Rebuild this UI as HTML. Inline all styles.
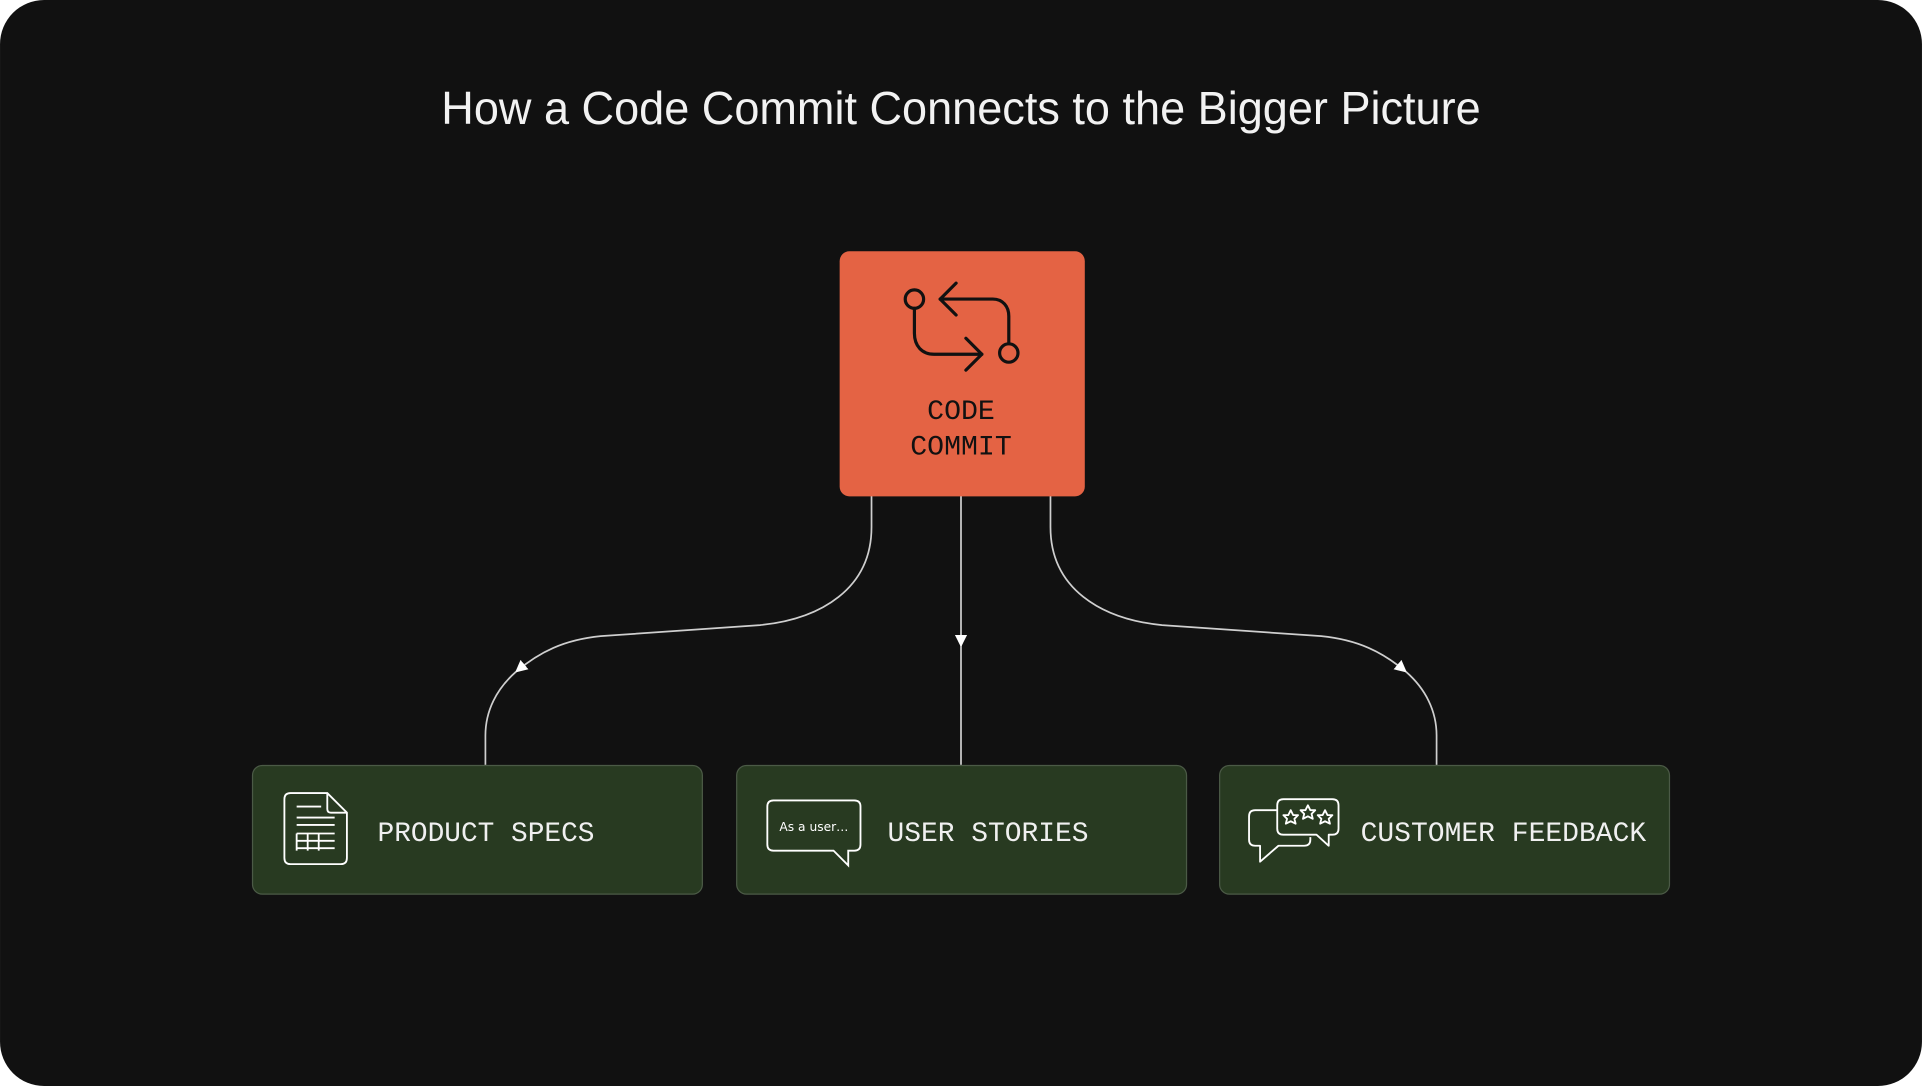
<!DOCTYPE html>
<html><head><meta charset="utf-8"><style>
html,body{margin:0;padding:0;background:#fff;}
svg{display:block;}
</style></head><body>
<svg width="1922" height="1086" viewBox="0 0 1568 886" xmlns="http://www.w3.org/2000/svg">
<defs>
<marker id="ah" viewBox="0 0 10 10" refX="9" refY="5" markerWidth="10" markerHeight="10" markerUnits="userSpaceOnUse" orient="auto">
<path d="M0,0 L10,5 L0,10 z" fill="#ffffff"/>
</marker>
</defs>
<rect x="0" y="0" width="1568" height="886" rx="36" fill="#111111"/>
<text x="784" y="101" text-anchor="middle" font-family="Liberation Sans, sans-serif" font-size="38" font-weight="300" fill="#f2f2f2" textLength="848" lengthAdjust="spacingAndGlyphs">How a Code Commit Connects to the Bigger Picture</text>

<!-- connectors -->
<g fill="none" stroke="#cfcfcf" stroke-width="1.4">
<path d="M711,404 L711,430 C711,480 670,505 620,510 L490,519 C460,522 440,532 421,548" marker-end="url(#ah)"/>
<path d="M421,548 C405,562 396,580 396,600 L396,624"/>
<path d="M784,404 L784,527" marker-end="url(#ah)"/>
<path d="M784,527 L784,624"/>
<path d="M857,404 L857,430 C857,480 898,505 948,510 L1078,519 C1108,522 1128,532 1147,548" marker-end="url(#ah)"/>
<path d="M1147,548 C1163,562 1172,580 1172,600 L1172,624"/>
</g>

<!-- code commit -->
<rect x="685" y="205" width="200" height="200" rx="8" fill="#e46344"/>
<g fill="none" stroke="#111" stroke-width="2.6" stroke-linecap="round" stroke-linejoin="round">
<circle cx="746" cy="244" r="7.5"/>
<circle cx="823" cy="288" r="7.5"/>
<path d="M746,252 L746,272 C746,282 752,289 762,289 L801,289"/>
<path d="M788,276 L801,289 L788,302"/>
<path d="M767,244 L810,244 C818,244 823,250 823,258 L823,280"/>
<path d="M780,231 L767,244 L780,257"/>
</g>
<text x="784" y="342" text-anchor="middle" font-family="Liberation Mono, monospace" font-size="23" fill="#111">CODE</text>
<text x="784" y="371" text-anchor="middle" font-family="Liberation Mono, monospace" font-size="23" fill="#111">COMMIT</text>

<!-- green boxes -->
<g fill="#283a21" stroke="#4b5a46" stroke-width="1">
<rect x="206" y="624.5" width="367" height="105" rx="8"/>
<rect x="601" y="624.5" width="367" height="105" rx="8"/>
<rect x="995" y="624.5" width="367" height="105" rx="8"/>
</g>

<!-- product specs icon -->
<g fill="none" stroke="#fff" stroke-width="1.5">
<path d="M237,647 L267,647 L283,663 L283,700 Q283,705 278,705 L237,705 Q232,705 232,700 L232,652 Q232,647 237,647 z"/>
<path d="M267,647 L267,660 Q267,663 270,663 L283,663"/>
<path d="M242,658 L262,658 M242,667 L273,667 M242,673 L273,673"/>
<path d="M242,680 L273,680 M242,686 L273,686 M242,692 L273,692 M242,680 L242,694 M251,680 L251,694 M260,680 L260,694"/>
</g>
<text x="308" y="686" font-family="Liberation Mono, monospace" font-size="22.5" fill="#f0f0f0" textLength="177" lengthAdjust="spacingAndGlyphs">PRODUCT SPECS</text>

<!-- user stories icon -->
<g fill="none" stroke="#fff" stroke-width="1.5">
<path d="M631,653 L697,653 Q702,653 702,658 L702,689 Q702,694 697,694 L692,694 L692,706 L680,694 L631,694 Q626,694 626,689 L626,658 Q626,653 631,653 z"/>
</g>
<text x="664" y="678" text-anchor="middle" font-family="DejaVu Sans, sans-serif" font-size="10" fill="#fff">As a user…</text>
<text x="724" y="686" font-family="Liberation Mono, monospace" font-size="22.5" fill="#f0f0f0" textLength="164" lengthAdjust="spacingAndGlyphs">USER STORIES</text>

<!-- customer feedback icon -->
<g fill="none" stroke="#fff" stroke-width="1.5" stroke-linejoin="round">
<path d="M1042,661 L1024,661 Q1019,661 1019,666 L1019,685 Q1019,690 1024,690 L1028,690 L1028,703 L1043,690 L1064,690 Q1069,690 1069,685 L1069,683"/>
<path d="M1047,652 L1087,652 Q1092,652 1092,657 L1092,676 Q1092,681 1087,681 L1084,681 L1084,690 L1074,681 L1047,681 Q1042,681 1042,676 L1042,657 Q1042,652 1047,652 z"/>
<path d="M1053,661 L1055,665 L1059,665 L1056,668 L1057,672 L1053,670 L1049,672 L1050,668 L1047,665 L1051,665 z"/>
<path d="M1067,657 L1069,661 L1073,661 L1070,664 L1071,668 L1067,666 L1063,668 L1064,664 L1061,661 L1065,661 z"/>
<path d="M1081,661 L1083,665 L1087,665 L1084,668 L1085,672 L1081,670 L1077,672 L1078,668 L1075,665 L1079,665 z"/>
</g>
<text x="1110" y="686" font-family="Liberation Mono, monospace" font-size="22.5" fill="#f0f0f0" textLength="233" lengthAdjust="spacingAndGlyphs">CUSTOMER FEEDBACK</text>
</svg>
</body></html>
